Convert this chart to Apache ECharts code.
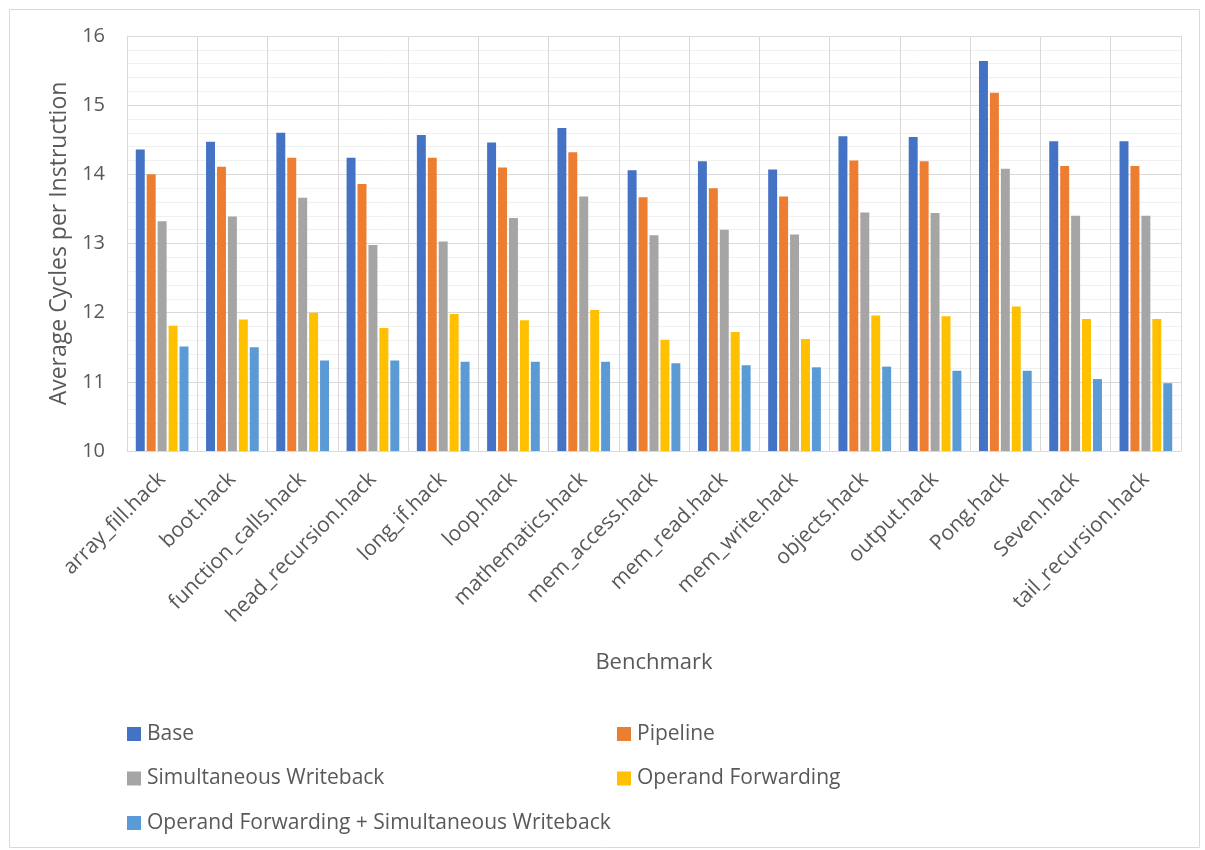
<!DOCTYPE html>
<html>
<head>
<meta charset="utf-8">
<title>Average Cycles per Instruction by Benchmark</title>
<script src="https://cdn.jsdelivr.net/npm/echarts@6/dist/echarts.min.js"></script>
<style>
  html, body { margin: 0; padding: 0; background: #ffffff; }
  #chart { width: 1205px; height: 850px; }
</style>
</head>
<body>
<div id="chart"></div>
<script>
// Benchmarks on the x axis
const benchmarks = [
  'array_fill.hack', 'boot.hack', 'function_calls.hack', 'head_recursion.hack',
  'long_if.hack', 'loop.hack', 'mathematics.hack', 'mem_access.hack',
  'mem_read.hack', 'mem_write.hack', 'objects.hack', 'output.hack',
  'Pong.hack', 'Seven.hack', 'tail_recursion.hack'
];

// Average cycles per instruction for each processor configuration
const base = [14.36, 14.47, 14.60, 14.24, 14.57, 14.46, 14.67, 14.06, 14.19, 14.07, 14.55, 14.54, 15.64, 14.48, 14.48];
const pipeline = [14.00, 14.11, 14.24, 13.86, 14.24, 14.10, 14.32, 13.67, 13.80, 13.68, 14.20, 14.19, 15.18, 14.12, 14.12];
const simultaneousWriteback = [13.32, 13.39, 13.66, 12.98, 13.03, 13.37, 13.68, 13.12, 13.20, 13.13, 13.45, 13.44, 14.08, 13.40, 13.40];
const operandForwarding = [11.81, 11.90, 12.00, 11.78, 11.98, 11.89, 12.04, 11.61, 11.72, 11.62, 11.96, 11.95, 12.09, 11.91, 11.91];
const forwardingPlusWriteback = [11.51, 11.50, 11.31, 11.31, 11.29, 11.29, 11.29, 11.27, 11.24, 11.21, 11.22, 11.16, 11.16, 11.04, 10.98];

// Value axis ticks
const yTicks = [10, 11, 12, 13, 14, 15, 16];

const seriesNames = [
  'Base', 'Pipeline', 'Simultaneous Writeback', 'Operand Forwarding',
  'Operand Forwarding + Simultaneous Writeback'
];
const seriesData = [base, pipeline, simultaneousWriteback, operandForwarding, forwardingPlusWriteback];
const seriesColors = ['#4472C4', '#ED7D31', '#A5A5A5', '#FFC000', '#5B9BD5'];

const FONT = '"Open Sans", "Noto Sans", sans-serif';
const TEXT_COLOR = '#595959';

const chart = echarts.init(document.getElementById('chart'), null, { renderer: 'canvas' });

const legendStyle = {
  orient: 'vertical',
  top: 723.5,
  padding: 0,
  itemWidth: 14, itemHeight: 14, itemGap: 23.5,
  icon: 'rect',
  selectedMode: false,
  textStyle: { fontFamily: FONT, fontSize: 21, color: TEXT_COLOR, padding: [0, 0, 0, 1] }
};

const option = {
  backgroundColor: '#ffffff',
  animation: false,
  textStyle: { fontFamily: FONT, color: TEXT_COLOR },
  graphic: [{
    type: 'rect',
    left: 7, top: 7,
    shape: { width: 1190, height: 838 },
    style: { fill: 'none', stroke: '#D9D9D9', lineWidth: 1 },
    silent: true,
    z: -10
  }],
  grid: { left: 127, top: 36, right: 24, bottom: 399, containLabel: false },
  legend: [
    Object.assign({ data: [seriesNames[0], seriesNames[2], seriesNames[4]], left: 127 }, legendStyle),
    Object.assign({ data: [seriesNames[1], seriesNames[3]], left: 617 }, legendStyle)
  ],
  xAxis: {
    type: 'category',
    data: benchmarks,
    boundaryGap: true,
    name: 'Benchmark',
    nameLocation: 'middle',
    nameGap: 201,
    nameTextStyle: { fontFamily: FONT, fontSize: 22, color: TEXT_COLOR },
    axisLine: { show: true, lineStyle: { color: '#D9D9D9', width: 1 } },
    axisTick: { show: false },
    axisLabel: {
      interval: 0,
      rotate: 45,
      margin: 25,
      fontFamily: FONT,
      fontSize: 21,
      color: TEXT_COLOR
    },
    splitLine: { show: true, interval: 0, lineStyle: { color: '#D9D9D9', width: 1 } }
  },
  yAxis: {
    type: 'value',
    min: yTicks[0],
    max: yTicks[yTicks.length - 1],
    interval: 1,
    name: 'Average Cycles per Instruction',
    nameLocation: 'middle',
    nameGap: 56,
    nameTextStyle: { fontFamily: FONT, fontSize: 23, color: TEXT_COLOR },
    axisLine: { show: true, lineStyle: { color: '#D9D9D9' } },
    axisTick: { show: false },
    axisLabel: { margin: 22, fontFamily: FONT, fontSize: 20, color: TEXT_COLOR },
    splitLine: { show: true, lineStyle: { color: '#D9D9D9', width: 1 } },
    minorTick: { show: false, splitNumber: 5 },
    minorSplitLine: { show: true, lineStyle: { color: '#F0F0F0', width: 1 } }
  },
  series: seriesNames.map((name, i) => ({
    name: name,
    type: 'bar',
    data: seriesData[i],
    barGap: '22%',
    barCategoryGap: '25%',
    itemStyle: { color: seriesColors[i] },
    emphasis: { disabled: true }
  }))
};

chart.setOption(option);
</script>
</body>
</html>
